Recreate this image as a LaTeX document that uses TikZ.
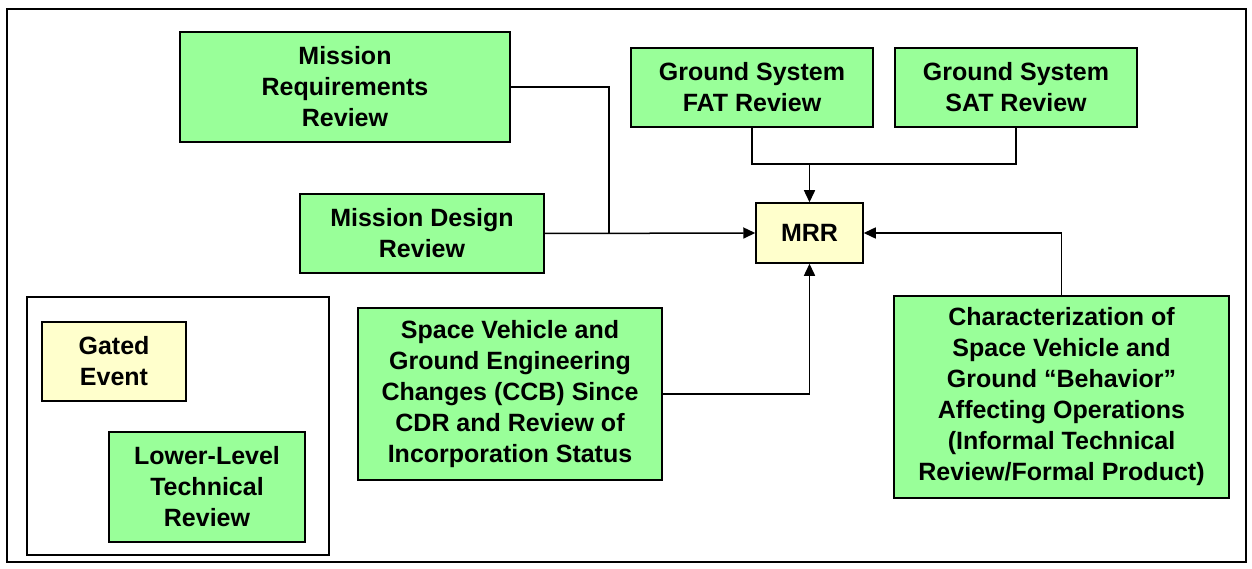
\documentclass[tikz,border=0pt]{standalone}
\usepackage{fontspec}
\setmainfont{Liberation Sans}
\usetikzlibrary{arrows.meta}
\definecolor{boxgreen}{HTML}{99FF99}
\definecolor{boxyellow}{HTML}{FFFFCC}
\tikzset{
  box/.style={draw=black, line width=1.5pt, align=center, inner sep=0pt,
    font=\fontsize{25}{31}\selectfont\bfseries},
  greenbox/.style={box, fill=boxgreen},
  yellowbox/.style={box, fill=boxyellow},
  conn/.style={line width=1.5pt},
  arr/.style={conn, -{Triangle[length=12pt,width=11pt]}},
}
\begin{document}
\begin{tikzpicture}[x=1pt,y=-1pt]
\useasboundingbox (0,0) rectangle (1252,569);
\draw[line width=2pt] (7,9) rectangle (1246,562);
\draw[line width=1.5pt] (27,297) rectangle (329,555);

\node[greenbox, minimum width=330pt, minimum height=110pt] (mreq) at (345,87) {Mission\\Requirements\\Review};
\node[greenbox, minimum width=244pt, minimum height=79pt] (mdr) at (422,233.5) {Mission Design\\Review};
\node[greenbox, minimum width=242pt, minimum height=79pt] (fat) at (752,87.5) {Ground System\\FAT Review};
\node[greenbox, minimum width=242pt, minimum height=79pt] (sat) at (1016,87.5) {Ground System\\SAT Review};
\node[yellowbox, minimum width=107pt, minimum height=60pt] (mrr) at (809.5,233) {MRR};
\node[greenbox, minimum width=304pt, minimum height=172pt] (sv) at (510,394) {Space Vehicle and\\Ground Engineering\\Changes (CCB) Since\\CDR and Review of\\Incorporation Status};
\node[greenbox, minimum width=335pt, minimum height=202pt] (char) at (1061.5,397) {Characterization of\\Space Vehicle and\\Ground “Behavior”\\Affecting Operations\\(Informal Technical\\Review/Formal Product)};
\node[yellowbox, minimum width=144pt, minimum height=79pt] (gated) at (114,361.5) {Gated\\Event};
\node[greenbox, minimum width=196pt, minimum height=110pt] (lower) at (207,487) {Lower-Level\\Technical\\Review};

\coordinate (j) at (609,233);
\coordinate (k) at (809.5,164);
\draw[conn] (mreq.east) -| (j);
\draw[arr] (mdr.east) -- (mrr.west);
\draw[conn] (fat.south) |- (k) -| (sat.south);
\draw[arr] (k) -- (mrr.north);
\draw[arr] (sv.east) -| (mrr.south);
\draw[arr] (char.north) |- (mrr.east);
\end{tikzpicture}
\end{document}
